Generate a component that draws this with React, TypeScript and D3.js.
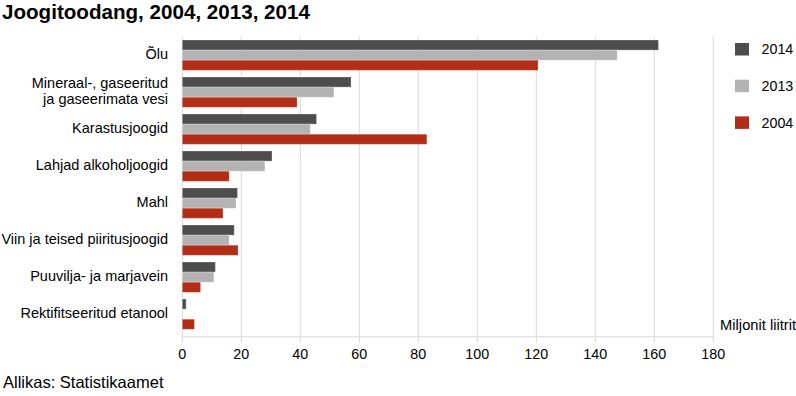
import React from "react";
import * as d3 from "d3";

const categories: string[][] = [
  ["Õlu"],
  ["Mineraal-, gaseeritud", "ja gaseerimata vesi"],
  ["Karastusjoogid"],
  ["Lahjad alkoholjoogid"],
  ["Mahl"],
  ["Viin ja teised piiritusjoogid"],
  ["Puuvilja- ja marjavein"],
  ["Rektifitseeritud etanool"],
];
const values2014 = [161.4, 57.2, 45.5, 30.4, 18.7, 17.6, 11.2, 1.3];
const values2013 = [147.4, 51.4, 43.4, 28.0, 18.2, 15.9, 10.7, 0.1];
const values2004 = [120.6, 38.9, 82.9, 15.9, 13.8, 18.9, 6.2, 4.1];
const seriesNames = ["2014", "2013", "2004"];
const seriesColors = ["#4d4d4d", "#b3b3b3", "#b22d15"];
const xTicks = [0, 20, 40, 60, 80, 100, 120, 140, 160, 180];

const W = 796;
const H = 396;
const FONT = "Arial, 'Liberation Sans', Helvetica, sans-serif";

export default function App() {
  const series = [values2014, values2013, values2004];
  const x = d3.scaleLinear().domain([0, 180]).range([182.3, 713.3]);
  const y = d3
    .scaleBand<number>()
    .domain(d3.range(categories.length))
    .range([37, 332.3])
    .paddingInner(0.181)
    .paddingOuter(0.081);
  const yInner = d3
    .scaleBand<number>()
    .domain(d3.range(seriesNames.length))
    .range([0, y.bandwidth()]);
  const plotTop = 36.7;
  const axisY = 336.7;

  return (
    <svg
      width={W}
      height={H}
      style={{ position: "absolute", left: 0, top: 0, background: "#fff" }}
      fontFamily={FONT}
    >
      <text x={2} y={19.3} fontSize={20.6} fontWeight="bold" fill="#000">
        Joogitoodang, 2004, 2013, 2014
      </text>

      {xTicks.map((t) => (
        <g key={t}>
          <line
            x1={x(t)}
            x2={x(t)}
            y1={plotTop}
            y2={axisY + 6}
            stroke="#d9d9d9"
            strokeWidth={1}
          />
          <text
            x={x(t)}
            y={359}
            fontSize={14.3}
            textAnchor="middle"
            fill="#000"
          >
            {t}
          </text>
        </g>
      ))}
      <line
        x1={x(0)}
        x2={x(180)}
        y1={axisY}
        y2={axisY}
        stroke="#d9d9d9"
        strokeWidth={1}
      />

      {categories.map((lines, i) => (
        <g key={i}>
          {series.map((vals, s) => (
            <rect
              key={s}
              x={x(0)}
              y={(y(i) as number) + (yInner(s) as number)}
              width={Math.max(0, x(vals[i]) - x(0))}
              height={yInner.bandwidth()}
              fill={seriesColors[s]}
              stroke="rgba(255,255,255,0.25)"
              strokeWidth={1}
            />
          ))}
          {lines.map((ln, k) => (
            <text
              key={k}
              x={168}
              y={
                (y(i) as number) +
                y.bandwidth() / 2 -
                1 +
                (k - (lines.length - 1) / 2) * 16
              }
              dy="0.35em"
              fontSize={14.5}
              textAnchor="end"
              fill="#000"
            >
              {ln}
            </text>
          ))}
        </g>
      ))}

      {seriesNames.map((n, s) => (
        <g key={n} transform={`translate(735, ${43 + s * 36.7})`}>
          <rect width={14} height={12.5} fill={seriesColors[s]} />
          <text x={26.5} y={6.3} dy="0.35em" fontSize={14.3} fill="#000">
            {n}
          </text>
        </g>
      ))}

      <text x={796} y={330} fontSize={14.7} textAnchor="end" fill="#000">
        Miljonit liitrit
      </text>
      <text x={3} y={388.3} fontSize={16.5} fill="#000">
        Allikas: Statistikaamet
      </text>
    </svg>
  );
}
